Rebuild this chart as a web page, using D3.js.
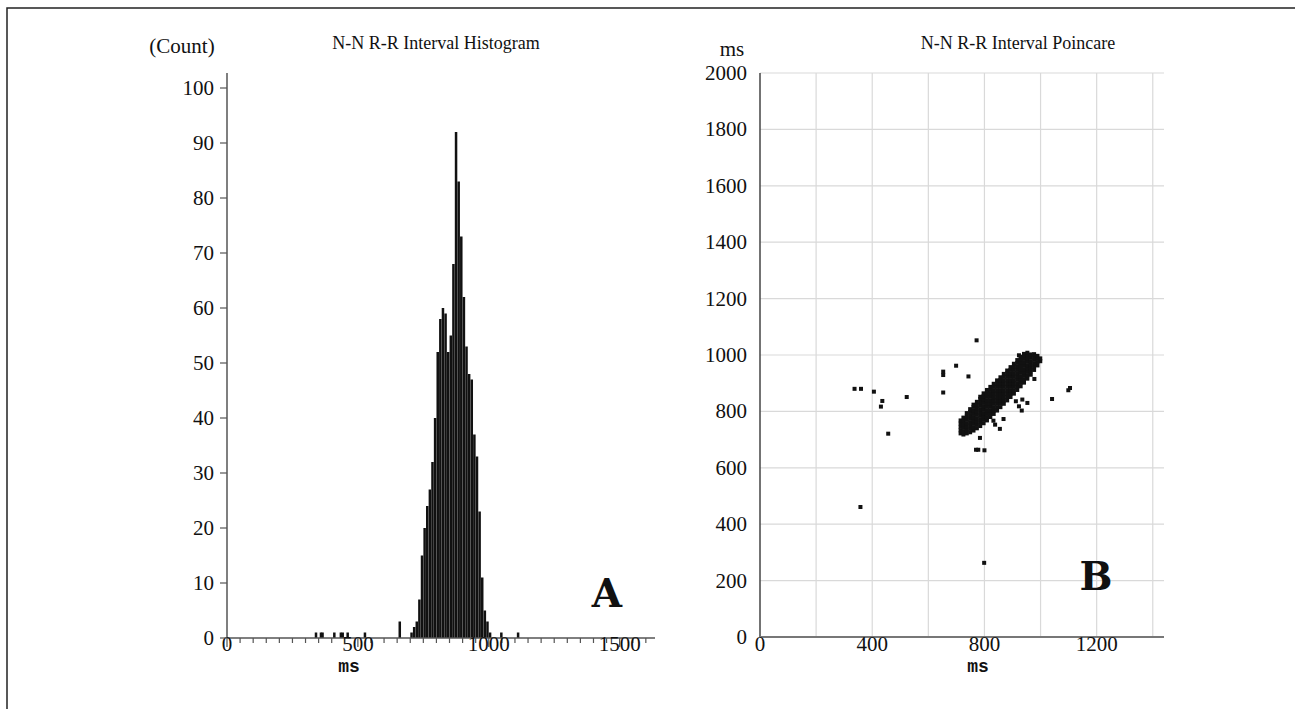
<!DOCTYPE html>
<html>
<head>
<meta charset="utf-8">
<script src="https://cdn.jsdelivr.net/npm/d3@7"></script>
<style>
  body { margin: 0; background: #fff; }
  text { font-family: "Liberation Serif", "Times New Roman", serif; fill: #111; }
  .mono { font-family: "Liberation Mono", "Courier New", monospace; font-weight: bold; }
  .panel { font-family: "DejaVu Serif", serif; font-weight: bold; }
</style>
</head>
<body>
<svg id="chart"></svg>
<script>
// histogram: bin centres (ms) and counts
const histCenters = [340, 359, 365, 410, 435, 442, 461, 527, 660,
  705, 715, 725, 735, 745, 755, 765, 775, 785, 795, 805, 815, 825, 835, 845, 855,
  865, 875, 885, 895, 905, 915, 925, 935, 945, 955, 965, 975, 985, 995, 1005,
  1048, 1112];
const histCounts = [1, 1, 1, 1, 1, 1, 1, 1, 3,
  1, 2, 3, 7, 15, 20, 24, 27, 32, 40, 52, 58, 60, 59, 52, 55,
  68, 92, 83, 73, 62, 53, 48, 47, 37, 33, 23, 11, 5, 3, 1,
  1, 1];
const histXTicks = [0, 500, 1000, 1500];
const histYTicks = [0, 10, 20, 30, 40, 50, 60, 70, 80, 90, 100];

// poincare: scattered beats (RR[n], RR[n+1]) in ms
const outlierX = [337, 360, 406, 436, 431, 523, 457, 358, 653, 653, 699, 653, 743, 772, 799,
  923, 978, 1041, 912, 935, 953, 923, 933, 832, 868, 838, 855, 784, 770, 778, 800, 1105, 1099];
const outlierY = [880, 880, 870, 837, 817, 851, 721, 461, 941, 929, 962, 867, 924, 1052, 263,
  999, 915, 844, 836, 842, 830, 818, 803, 767, 773, 753, 738, 706, 664, 664, 662, 883, 875];
// dense band: one column of RR[n] with its RR[n+1] values
const clusterX = [715, 725, 737, 749, 761, 773, 785, 797, 809, 821, 833, 845,
  857, 869, 881, 893, 905, 917, 929, 941, 953, 965, 977, 989, 999];
const clusterY = [
  [722, 733, 745, 757, 768],
  [718, 730, 742, 754, 766, 778],
  [722, 734, 746, 758, 770, 782, 794],
  [726, 738, 750, 762, 774, 786, 798, 808],
  [732, 744, 756, 768, 780, 792, 804, 816, 824],
  [740, 752, 764, 776, 788, 800, 812, 824, 834],
  [748, 760, 772, 784, 796, 808, 820, 832, 844, 852],
  [758, 770, 782, 794, 806, 818, 830, 842, 854, 864],
  [768, 780, 792, 804, 816, 828, 840, 852, 864, 876],
  [780, 792, 804, 816, 828, 840, 852, 864, 876, 887],
  [791, 803, 815, 827, 839, 851, 863, 875, 887, 898],
  [803, 815, 827, 839, 851, 863, 875, 887, 899, 910],
  [815, 827, 839, 851, 863, 875, 887, 899, 911, 921],
  [827, 839, 851, 863, 875, 887, 899, 911, 923, 933],
  [839, 851, 863, 875, 887, 899, 911, 923, 935, 945],
  [851, 863, 875, 887, 899, 911, 923, 935, 947, 957],
  [863, 875, 887, 899, 911, 923, 935, 947, 959, 969],
  [876, 888, 900, 912, 924, 936, 948, 960, 972, 982],
  [889, 901, 913, 925, 937, 949, 961, 973, 985, 994],
  [902, 914, 926, 938, 950, 962, 974, 986, 998, 1004],
  [916, 928, 940, 952, 964, 976, 988, 1000, 1008],
  [930, 942, 954, 966, 978, 990, 1002],
  [947, 959, 971, 983, 995, 1003],
  [963, 975, 987, 997],
  [978, 988]
];
const poincareXTicks = [0, 400, 800, 1200];
const poincareYTicks = [0, 200, 400, 600, 800, 1000, 1200, 1400, 1600, 1800, 2000];
const poincareGrid = [200, 400, 600, 800, 1000, 1200, 1400, 1600, 1800, 2000];

const W = 1295, H = 709;
const svg = d3.select('#chart').attr('width', W).attr('height', H);

// outer frame (top and left edge)
svg.append('path')
  .attr('d', `M7,${H} L7,8 L${W},8`)
  .attr('fill', 'none').attr('stroke', '#222').attr('stroke-width', 1.5);

drawHistogram();
drawPoincare();

function drawHistogram() {
  const x = d3.scaleLinear().domain([0, 1635]).range([227, 655]);
  const y = d3.scaleLinear().domain([0, 100]).range([638, 88]);
  const g = svg.append('g');

  g.selectAll('rect.bar')
    .data(histCenters)
    .enter()
    .append('rect')
    .attr('class', 'bar')
    .attr('x', (d) => x(d) - 1.25)
    .attr('width', 2.5)
    .attr('y', (d, i) => y(histCounts[i]))
    .attr('height', (d, i) => y(0) - y(histCounts[i]))
    .attr('fill', '#111');

  // axes
  g.append('line').attr('x1', x(0)).attr('x2', x(0)).attr('y1', y(0)).attr('y2', 73)
    .attr('stroke', '#555').attr('stroke-width', 1.5);
  g.append('line').attr('x1', x(0)).attr('x2', 655).attr('y1', y(0)).attr('y2', y(0))
    .attr('stroke', '#555').attr('stroke-width', 1.5);

  const minor = d3.range(0, 1650, 50);
  g.selectAll('line.xt')
    .data(minor)
    .enter()
    .append('line')
    .attr('x1', (d) => x(d)).attr('x2', (d) => x(d))
    .attr('y1', y(0)).attr('y2', (d) => y(0) + (d % 500 === 0 ? 9 : 5))
    .attr('stroke', '#555').attr('stroke-width', 1.2);

  g.selectAll('text.xl')
    .data(histXTicks)
    .enter()
    .append('text')
    .attr('x', (d) => x(d)).attr('y', 651)
    .attr('text-anchor', 'middle').attr('font-size', 21)
    .text((d) => d);

  g.selectAll('line.yt')
    .data(histYTicks)
    .enter()
    .append('line')
    .attr('x1', x(0) - 7).attr('x2', x(0))
    .attr('y1', (d) => y(d)).attr('y2', (d) => y(d))
    .attr('stroke', '#555').attr('stroke-width', 1.2);

  g.selectAll('text.yl')
    .data(histYTicks)
    .enter()
    .append('text')
    .attr('x', 214).attr('y', (d) => y(d) + 7)
    .attr('text-anchor', 'end').attr('font-size', 21)
    .text((d) => d);

  g.append('text').attr('x', 182).attr('y', 53).attr('text-anchor', 'middle')
    .attr('font-size', 21).text('(Count)');
  g.append('text').attr('x', 436).attr('y', 49).attr('text-anchor', 'middle')
    .attr('font-size', 18).text('N-N R-R Interval Histogram');
  g.append('text').attr('class', 'mono').attr('x', 349).attr('y', 672)
    .attr('text-anchor', 'middle').attr('font-size', 18).text('ms');
  g.append('text').attr('class', 'panel').attr('x', 607).attr('y', 607)
    .attr('text-anchor', 'middle').attr('font-size', 39).text('A');
}

function drawPoincare() {
  const x = d3.scaleLinear().domain([0, 1440]).range([760, 1164]);
  const y = d3.scaleLinear().domain([0, 2000]).range([637, 73]);
  const g = svg.append('g');

  // grid
  g.selectAll('line.gv')
    .data(poincareGrid.filter((d) => d <= 1400))
    .enter()
    .append('line')
    .attr('x1', (d) => x(d)).attr('x2', (d) => x(d))
    .attr('y1', y(0)).attr('y2', y(2000))
    .attr('stroke', '#d9d9d9').attr('stroke-width', 1.2);
  g.selectAll('line.gh')
    .data(poincareGrid)
    .enter()
    .append('line')
    .attr('x1', x(0)).attr('x2', x(1440))
    .attr('y1', (d) => y(d)).attr('y2', (d) => y(d))
    .attr('stroke', '#d9d9d9').attr('stroke-width', 1.2);

  // axes
  g.append('line').attr('x1', x(0)).attr('x2', x(0)).attr('y1', y(0)).attr('y2', y(2000))
    .attr('stroke', '#444').attr('stroke-width', 1.5);
  g.append('line').attr('x1', x(0)).attr('x2', x(1440)).attr('y1', y(0)).attr('y2', y(0))
    .attr('stroke', '#777').attr('stroke-width', 2);

  g.selectAll('text.xl')
    .data(poincareXTicks)
    .enter()
    .append('text')
    .attr('x', (d) => x(d)).attr('y', 651)
    .attr('text-anchor', 'middle').attr('font-size', 21)
    .text((d) => d);

  g.selectAll('text.yl')
    .data(poincareYTicks)
    .enter()
    .append('text')
    .attr('x', 747).attr('y', (d) => y(d) + 7)
    .attr('text-anchor', 'end').attr('font-size', 21)
    .text((d) => d);

  // points
  const pts = outlierX.map((v, i) => [v, outlierY[i]]);
  clusterX.forEach((v, i) => clusterY[i].forEach((w) => pts.push([v, w])));

  g.selectAll('rect.pt')
    .data(pts)
    .enter()
    .append('rect')
    .attr('class', 'pt')
    .attr('x', (d) => x(d[0]) - 2)
    .attr('y', (d) => y(d[1]) - 2)
    .attr('width', 4).attr('height', 4)
    .attr('fill', '#111');

  g.append('text').attr('x', 732).attr('y', 56).attr('text-anchor', 'middle')
    .attr('font-size', 21).text('ms');
  g.append('text').attr('x', 1018).attr('y', 49).attr('text-anchor', 'middle')
    .attr('font-size', 18).text('N-N R-R Interval Poincare');
  g.append('text').attr('class', 'mono').attr('x', 978).attr('y', 672)
    .attr('text-anchor', 'middle').attr('font-size', 18).text('ms');
  g.append('text').attr('class', 'panel').attr('x', 1096).attr('y', 590)
    .attr('text-anchor', 'middle').attr('font-size', 39).text('B');
}
</script>
</body>
</html>
